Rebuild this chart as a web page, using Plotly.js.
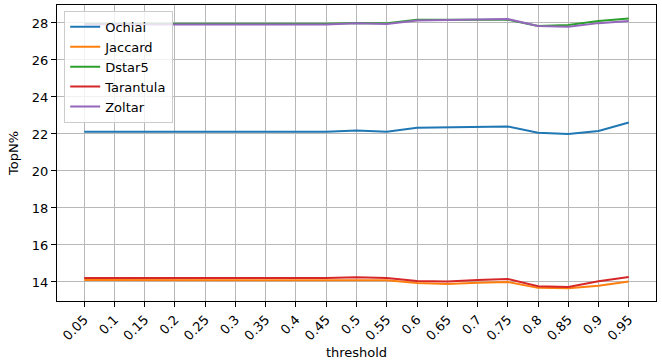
<!DOCTYPE html>
<html>
<head>
<meta charset="utf-8">
<script src="https://cdn.plot.ly/plotly-3.0.1.min.js"></script>
<style>html,body{margin:0;padding:0;background:#fff;}#chart{width:662px;height:362px;}</style>
</head>
<body>
<div id="chart"></div>
<script>
const thresholds = [0.05,0.1,0.15,0.2,0.25,0.3,0.35,0.4,0.45,0.5,0.55,0.6,0.65,0.7,0.75,0.8,0.85,0.9,0.95];
const tickLabels = ["0.05","0.1","0.15","0.2","0.25","0.3","0.35","0.4","0.45","0.5","0.55","0.6","0.65","0.7","0.75","0.8","0.85","0.9","0.95"];
const ochiai    = [22.12,22.12,22.12,22.12,22.12,22.12,22.12,22.12,22.12,22.19,22.12,22.33,22.34,22.37,22.40,22.06,22.00,22.16,22.62];
const jaccard   = [14.10,14.10,14.10,14.10,14.10,14.10,14.10,14.10,14.10,14.12,14.09,13.94,13.89,13.95,14.00,13.68,13.66,13.80,14.03];
const dstar5    = [27.95,27.95,27.95,27.95,27.95,27.95,27.95,27.95,27.95,28.00,27.98,28.17,28.17,28.17,28.17,27.83,27.89,28.11,28.24];
const tarantula = [14.21,14.21,14.21,14.21,14.21,14.21,14.21,14.21,14.21,14.26,14.21,14.05,14.02,14.11,14.16,13.77,13.73,14.04,14.27];
const zoltar    = [27.92,27.92,27.92,27.92,27.92,27.92,27.92,27.92,27.92,27.99,27.94,28.13,28.14,28.19,28.21,27.84,27.79,27.99,28.10];
const seriesNames = ["Ochiai","Jaccard","Dstar5","Tarantula","Zoltar"];
const seriesData = [ochiai, jaccard, dstar5, tarantula, zoltar];
const colors = ["#1f77b4","#ff7f0e","#2ca02c","#d62728","#9467bd"];

const traces = seriesNames.map((n,i)=>({
  x: thresholds, y: seriesData[i], name: n, type: 'scatter', mode: 'lines',
  line: {color: colors[i], width: 2}
}));

const font = {family: 'DejaVu Sans, sans-serif', size: 13, color: '#000'};
const layout = {
  width: 662, height: 362,
  margin: {l: 57, r: 6, t: 5, b: 61},
  paper_bgcolor: '#fff', plot_bgcolor: '#fff',
  font: font,
  showlegend: true,
  legend: {x: 0.012, y: 0.98, xanchor: 'left', yanchor: 'top',
    bgcolor: 'rgba(255,255,255,0.8)', bordercolor: '#cccccc', borderwidth: 1,
    font: {family: 'DejaVu Sans, sans-serif', size: 13, color: '#000'},
    itemwidth: 30, tracegroupgap: 0},
  xaxis: {
    range: [0.005, 0.995], tickmode: 'array', tickvals: thresholds, ticktext: tickLabels,
    tickangle: -45, showgrid: true, gridcolor: '#b8b8b8', gridwidth: 1,
    showline: true, linecolor: '#000', linewidth: 1, mirror: true,
    ticks: 'outside', ticklen: 5, tickcolor: '#000', zeroline: false,
    title: {text: 'threshold', font: font, standoff: 5},
    tickfont: font
  },
  yaxis: {
    range: [12.97, 28.97], tickmode: 'array', tickvals: [14,16,18,20,22,24,26,28],
    showgrid: true, gridcolor: '#b8b8b8', gridwidth: 1,
    showline: true, linecolor: '#000', linewidth: 1, mirror: true,
    ticks: 'outside', ticklen: 5, tickcolor: '#000', zeroline: false,
    title: {text: 'TopN%', font: font, standoff: 10},
    tickfont: font
  }
};
Plotly.newPlot('chart', traces, layout, {displayModeBar: false, staticPlot: true});
</script>
</body>
</html>
